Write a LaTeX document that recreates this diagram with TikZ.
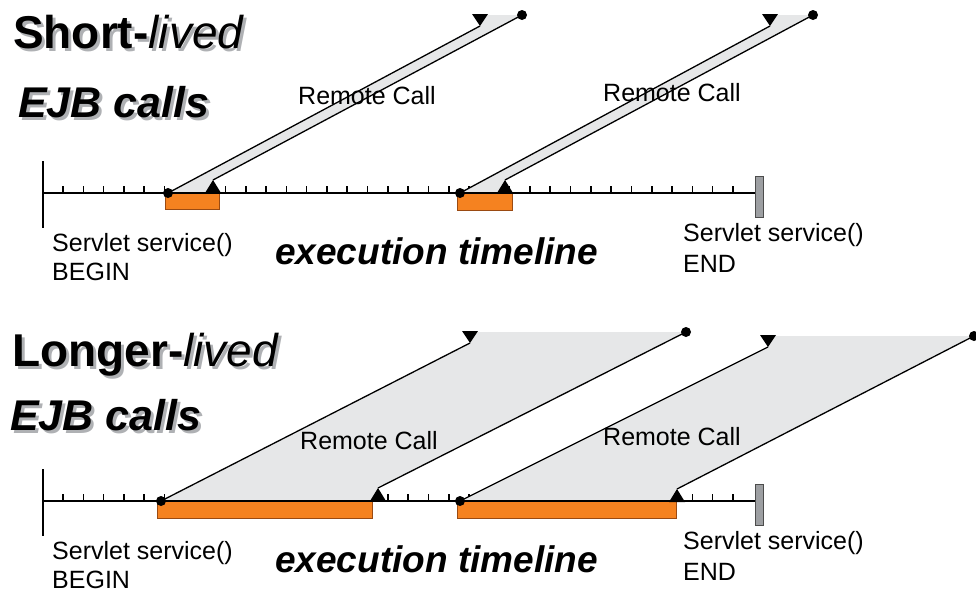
\documentclass[tikz,border=0pt]{standalone}
\usepackage{fontspec}
\setmainfont{Liberation Sans}
\definecolor{band}{HTML}{E6E7E8}
\definecolor{orangebar}{HTML}{F58220}
\definecolor{orangeedge}{HTML}{9A4A12}
\definecolor{shadowgrey}{HTML}{AFB1B4}
\definecolor{endbar}{HTML}{9D9FA2}
% heading text with a grey drop shadow behind it
\newcommand\withshadow[1]{\makebox[0pt][l]{\hspace{3pt}\raisebox{-3pt}{\color{shadowgrey}#1}}#1}
\begin{document}
\begin{tikzpicture}[x=1pt,y=-1pt,
  txt/.style={inner sep=0pt, anchor=base west, font=\fontsize{25}{30}\selectfont},
  title/.style={inner sep=0pt, anchor=base west, font=\fontsize{46}{50}\selectfont},
  subtitle/.style={inner sep=0pt, anchor=base west, font=\fontsize{43}{48}\selectfont\bfseries\itshape},
  timeline/.style={inner sep=0pt, anchor=base west, font=\fontsize{37}{42}\selectfont\bfseries\itshape},
  bandfill/.style={fill=band, draw=none},
  callbox/.style={fill=orangebar, draw=orangeedge, line width=0.7pt},
  axisline/.style={line width=2.4pt},
  tickline/.style={line width=1.6pt},
  callline/.style={line width=1.3pt},
  tiptri/.style={fill=black},
  calldot/.style={circle, fill=black, inner sep=0pt, minimum size=10pt},
  endmark/.style={fill=endbar, draw=black!70, line width=0.7pt}
]
\useasboundingbox (0,0) rectangle (976,592);

% ---------- ticks of the two timelines, 308 units apart ----------
\foreach \oy in {0,308}{
  \foreach \k in {0,...,33}
    \draw[tickline] ({63+20.3*\k},{193+\oy}) -- ++(0,-7);
}

% ===== short-lived calls =====
% shaded call bands
\fill[bandfill] (168,193) -- (480,26) -- (480,15) -- (522,15) -- (213,180) -- (213,193) -- cycle;
\fill[bandfill] (460,193) -- (770,26) -- (770,15) -- (813,15) -- (505,180) -- (505,193) -- cycle;
% time spent waiting
\draw[callbox] (165,193) rectangle (219,209);
\draw[callbox] (457,193) rectangle (512,210);
% axis
\coordinate (tA0) at (43,193);
\coordinate (tA1) at (755,193);
\draw[axisline] (tA0) -- (tA1);
\draw[line width=2.2pt] (43,161) -- (43,228);
\draw[endmark] (755,176) rectangle (763,217);
% calls
\node[calldot] (sa1) at (168,193) {};
\node[calldot] (ra1) at (522,15) {};
\coordinate (pa1) at (480,26);
\coordinate (qa1) at (213,180);
\draw[callline] (sa1.center) -- (pa1);
\draw[callline] (ra1.center) -- (qa1);
\fill[tiptri] (pa1) -- ++(-8,-12) -- ++(16,0) -- cycle;
\fill[tiptri] (qa1) -- ++(-8,13) -- ++(16,0) -- cycle;

\node[calldot] (sa2) at (460,193) {};
\node[calldot] (ra2) at (813,15) {};
\coordinate (pa2) at (770,26);
\coordinate (qa2) at (505,180);
\draw[callline] (sa2.center) -- (pa2);
\draw[callline] (ra2.center) -- (qa2);
\fill[tiptri] (pa2) -- ++(-8,-12) -- ++(16,0) -- cycle;
\fill[tiptri] (qa2) -- ++(-8,13) -- ++(16,0) -- cycle;

% labels
\node[title] (t1) at (13,48) {\withshadow{\textbf{Short-}\textit{lived}}};
\node[subtitle] (e1) at (18,117) {\withshadow{EJB calls}};
\node[txt] (rc1) at (298,104) {Remote Call};
\node[txt] (rc2) at (603,101) {Remote Call};
\node[txt] (b1) at (52,251) {Servlet service()};
\node[txt] (b2) at (52,280) {BEGIN};
\node[txt] (n1) at (683,241) {Servlet service()};
\node[txt] (n2) at (683,272) {END};
\node[timeline] (x1) at (275,264) {execution timeline};

% ===== longer-lived calls =====
\fill[bandfill] (161,501) -- (470,343) -- (470,332) -- (686,332) -- (378,488) -- (378,501) -- cycle;
\fill[bandfill] (460,501) -- (768,347) -- (768,336) -- (974,336) -- (677,489) -- (677,501) -- cycle;
\draw[callbox] (157,501) rectangle (372,518);
\draw[callbox] (457,501) rectangle (676,518);
\coordinate (tB0) at (43,501);
\coordinate (tB1) at (755,501);
\draw[axisline] (tB0) -- (tB1);
\draw[line width=2.2pt] (43,469) -- (43,536);
\draw[endmark] (755,484) rectangle (763,525);

\node[calldot] (sb1) at (161,501) {};
\node[calldot] (rb1) at (686,332) {};
\coordinate (pb1) at (470,343);
\coordinate (qb1) at (378,488);
\draw[callline] (sb1.center) -- (pb1);
\draw[callline] (rb1.center) -- (qb1);
\fill[tiptri] (pb1) -- ++(-8,-12) -- ++(16,0) -- cycle;
\fill[tiptri] (qb1) -- ++(-8,13) -- ++(16,0) -- cycle;

\node[calldot] (sb2) at (460,501) {};
\node[calldot] (rb2) at (974,336) {};
\coordinate (pb2) at (768,347);
\coordinate (qb2) at (677,489);
\draw[callline] (sb2.center) -- (pb2);
\draw[callline] (rb2.center) -- (qb2);
\fill[tiptri] (pb2) -- ++(-8,-12) -- ++(16,0) -- cycle;
\fill[tiptri] (qb2) -- ++(-8,13) -- ++(16,0) -- cycle;

\node[title] (t2) at (12,366) {\withshadow{\textbf{Longer-}\textit{lived}}};
\node[subtitle] (e2) at (10,430) {\withshadow{EJB calls}};
\node[txt] (rc3) at (300,449) {Remote Call};
\node[txt] (rc4) at (603,445) {Remote Call};
\node[txt] (b3) at (52,559) {Servlet service()};
\node[txt] (b4) at (52,588) {BEGIN};
\node[txt] (n3) at (683,549) {Servlet service()};
\node[txt] (n4) at (683,580) {END};
\node[timeline] (x2) at (275,572) {execution timeline};
\end{tikzpicture}
\end{document}
